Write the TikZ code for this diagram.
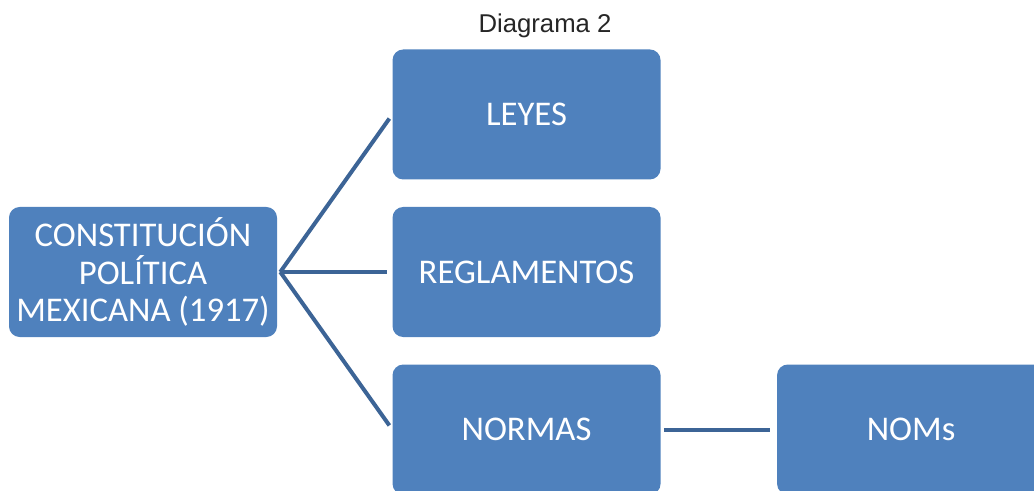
\documentclass[tikz,border=0pt]{standalone}
\usepackage{fontspec}
\setmainfont{Carlito}
\newfontfamily\titlefont{Liberation Sans}
\usepackage{xcolor}
\usetikzlibrary{positioning}
\definecolor{boxblue}{HTML}{4F81BD}
\definecolor{linkblue}{HTML}{3C6496}
\definecolor{titlegray}{HTML}{262626}

\begin{document}
\begin{tikzpicture}[
    node distance=20.25pt and 86.25pt,
    box/.style={rectangle, rounded corners=8pt, fill=boxblue, text=white, minimum width=201pt, minimum height=97.5pt, align=center, font=\fontsize{26}{28}\selectfont},
    link/.style={draw=linkblue, line width=3pt}
]
    \useasboundingbox (0,0) rectangle (775.5pt,-368.25pt);

    % Title
    \node[anchor=base, text=titlegray, font=\titlefont\fontsize{19.3}{22}\selectfont] (titulo) at (408.75pt,-24.75pt) {Diagrama 2};

    % Root and its three branches
    \node[box] (cpm) at (107.25pt,-204pt) {CONSTITUCIÓN\\POLÍTICA\\MEXICANA (1917)};
    \node[box, right=of cpm] (reglamentos) {REGLAMENTOS};
    \node[box, above=of reglamentos] (leyes) {LEYES};
    \node[box, below=of reglamentos] (normas) {NORMAS};
    \node[box, right=87pt of normas] (noms) {NOMs};

    % Connectors
    \coordinate (hub) at ([xshift=2.25pt]cpm.east);
    \draw[link, shorten >=3.75pt] (hub) -- (leyes.west);
    \draw[link, shorten >=3.75pt] (hub) -- (reglamentos.west);
    \draw[link, shorten >=3.75pt] (hub) -- (normas.west);
    \draw[link, shorten <=2.25pt, shorten >=5.25pt] (normas) -- (noms);

\end{tikzpicture}
\end{document}
